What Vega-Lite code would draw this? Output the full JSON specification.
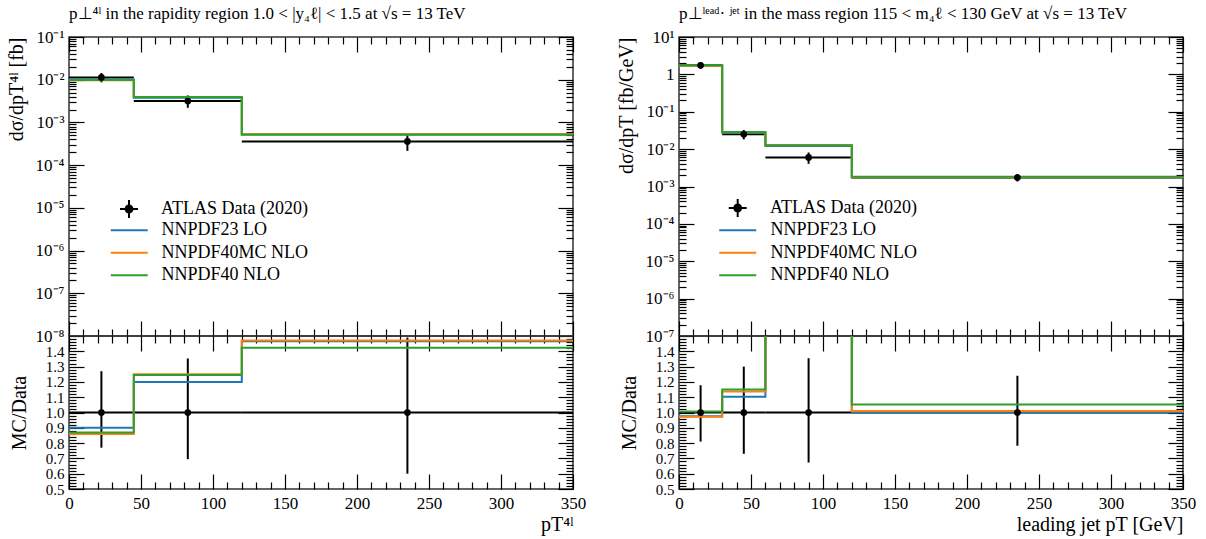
{
  "$schema": "https://vega.github.io/schema/vega-lite/v6.json",
  "autosize": {"type": "pad"},
  "padding": {"left": 5, "top": 4, "right": 5, "bottom": 5},
  "background": "white",
  "config": {
    "view": {"stroke": "#333", "strokeWidth": 1.5},
    "axis": {"grid": false, "domain": false, "labelFont": "Liberation Serif", "labelFontSize": 17, "labelColor": "black", "titleFont": "Liberation Serif", "titleFontSize": 20, "titleFontWeight": "normal", "titleColor": "black", "tickColor": "black", "tickWidth": 1.2, "labelFlush": false, "labelOverlap": false, "labelPadding": 5},
    "legend": {"labelFont": "Liberation Serif", "labelFontSize": 18, "labelColor": "black", "padding": 0, "rowPadding": 2.5},
    "title": {"font": "Liberation Serif", "fontSize": 17, "fontWeight": "normal", "color": "black"}
  },
  "datasets": {
    "Ldata": [
      {"src": "ATLAS Data (2020)", "lo": 0, "hi": 45, "c": 22.5, "v": 0.0113, "vlo": 0.0087, "vhi": 0.01435, "r": 1, "rlo": 0.77, "rhi": 1.27},
      {"src": "ATLAS Data (2020)", "lo": 45, "hi": 120, "c": 82.5, "v": 0.00317, "vlo": 0.0022, "vhi": 0.00429, "r": 1, "rlo": 0.695, "rhi": 1.353},
      {"src": "ATLAS Data (2020)", "lo": 120, "hi": 350, "c": 235, "v": 0.00036, "vlo": 0.000216, "vhi": 0.000536, "r": 1, "rlo": 0.6, "rhi": 1.49}
    ],
    "Lmc": [
      {"series": "NNPDF23 LO", "x": 0, "y": 0.01017, "ratio": 0.90},
      {"series": "NNPDF23 LO", "x": 45, "y": 0.003804, "ratio": 1.20},
      {"series": "NNPDF23 LO", "x": 120, "y": 0.000527, "ratio": 1.465},
      {"series": "NNPDF23 LO", "x": 350, "y": 0.000527, "ratio": 1.465},
      {"series": "NNPDF40MC NLO", "x": 0, "y": 0.00972, "ratio": 0.86},
      {"series": "NNPDF40MC NLO", "x": 45, "y": 0.003963, "ratio": 1.25},
      {"series": "NNPDF40MC NLO", "x": 120, "y": 0.000529, "ratio": 1.47},
      {"series": "NNPDF40MC NLO", "x": 350, "y": 0.000529, "ratio": 1.47},
      {"series": "NNPDF40 NLO", "x": 0, "y": 0.00983, "ratio": 0.87},
      {"series": "NNPDF40 NLO", "x": 45, "y": 0.003947, "ratio": 1.245},
      {"series": "NNPDF40 NLO", "x": 120, "y": 0.000512, "ratio": 1.423},
      {"series": "NNPDF40 NLO", "x": 350, "y": 0.000512, "ratio": 1.423}
    ],
    "Rdata": [
      {"src": "ATLAS Data (2020)", "lo": 0, "hi": 30, "c": 15, "v": 1.75, "vlo": 1.4175, "vhi": 2.06, "r": 1, "rlo": 0.81, "rhi": 1.178},
      {"src": "ATLAS Data (2020)", "lo": 30, "hi": 60, "c": 45, "v": 0.025, "vlo": 0.01825, "vhi": 0.0325, "r": 1, "rlo": 0.73, "rhi": 1.30},
      {"src": "ATLAS Data (2020)", "lo": 60, "hi": 120, "c": 90, "v": 0.006, "vlo": 0.00404, "vhi": 0.00813, "r": 1, "rlo": 0.673, "rhi": 1.355},
      {"src": "ATLAS Data (2020)", "lo": 120, "hi": 350, "c": 235, "v": 0.00174, "vlo": 0.00136, "vhi": 0.00216, "r": 1, "rlo": 0.783, "rhi": 1.24}
    ],
    "Rmc": [
      {"series": "NNPDF23 LO", "x": 0, "y": 1.706, "ratio": 0.975},
      {"series": "NNPDF23 LO", "x": 30, "y": 0.02758, "ratio": 1.103},
      {"series": "NNPDF23 LO", "x": 60, "y": 0.0122, "ratio": 2.03},
      {"series": "NNPDF23 LO", "x": 120, "y": 0.00174, "ratio": 1.0},
      {"series": "NNPDF23 LO", "x": 350, "y": 0.00174, "ratio": 1.0},
      {"series": "NNPDF40MC NLO", "x": 0, "y": 1.701, "ratio": 0.972},
      {"series": "NNPDF40MC NLO", "x": 30, "y": 0.02845, "ratio": 1.138},
      {"series": "NNPDF40MC NLO", "x": 60, "y": 0.0126, "ratio": 2.10},
      {"series": "NNPDF40MC NLO", "x": 120, "y": 0.001756, "ratio": 1.009},
      {"series": "NNPDF40MC NLO", "x": 350, "y": 0.001756, "ratio": 1.009},
      {"series": "NNPDF40 NLO", "x": 0, "y": 1.762, "ratio": 1.007},
      {"series": "NNPDF40 NLO", "x": 30, "y": 0.02878, "ratio": 1.151},
      {"series": "NNPDF40 NLO", "x": 60, "y": 0.0127, "ratio": 2.12},
      {"series": "NNPDF40 NLO", "x": 120, "y": 0.001832, "ratio": 1.053},
      {"series": "NNPDF40 NLO", "x": 350, "y": 0.001832, "ratio": 1.053}
    ]
  },
  "columns": 2,
  "spacing": {"row": 0, "column": 106},
  "bounds": "flush",
  "resolve": {"scale": {"stroke": "independent", "fill": "independent", "x": "independent", "y": "independent"}, "legend": {"stroke": "independent", "fill": "independent"}, "axis": {"x": "independent", "y": "independent"}},
  "concat": [
    {
      "width": 504, "height": 299,
      "title": {"text": "p⊥⁴ˡ in the rapidity region 1.0 < |y₄ℓ| < 1.5 at √s = 13 TeV", "anchor": "start", "frame": "group", "offset": 5},
      "resolve": {"axis": {"x": "independent", "y": "independent"}},
      "layer": [
        {
          "data": {"name": "Ldata"},
          "mark": {"type": "rule", "color": "black", "strokeWidth": 2},
          "encoding": {
            "x": {"field": "lo", "type": "quantitative", "scale": {"domain": [0, 350], "nice": false, "zero": false}, "axis": {"orient": "bottom", "values": [0, 50, 100, 150, 200, 250, 300, 350], "labels": false, "tickSize": -15, "title": null}},
            "x2": {"field": "hi"},
            "y": {"field": "v", "type": "quantitative", "scale": {"type": "log", "domain": [1e-8, 0.1], "nice": false}, "axis": {"orient": "left", "values": [1e-8, 1e-7, 1e-6, 1e-5, 1e-4, 1e-3, 1e-2, 1e-1], "tickSize": -15, "labelPadding": 20, "labelExpr": "datum.value >= 0.05 ? '10⁻¹' : datum.value >= 0.005 ? '10⁻²' : datum.value >= 5e-4 ? '10⁻³' : datum.value >= 5e-5 ? '10⁻⁴' : datum.value >= 5e-6 ? '10⁻⁵' : datum.value >= 5e-7 ? '10⁻⁶' : datum.value >= 5e-8 ? '10⁻⁷' : '10⁻⁸'", "title": "dσ/dpT⁴ˡ [fb]", "titleAnchor": "end", "titlePadding": 9}}
          }
        },
        {
          "data": {"name": "Ldata"},
          "mark": {"type": "rule", "color": "black", "strokeWidth": 2},
          "encoding": {
            "x": {"field": "c", "type": "quantitative", "scale": {"domain": [0, 350], "nice": false, "zero": false}, "axis": {"orient": "bottom", "values": [10, 20, 30, 40, 60, 70, 80, 90, 110, 120, 130, 140, 160, 170, 180, 190, 210, 220, 230, 240, 260, 270, 280, 290, 310, 320, 330, 340], "labels": false, "tickSize": -7, "title": null}},
            "y": {"field": "vlo", "type": "quantitative", "scale": {"type": "log", "domain": [1e-8, 0.1], "nice": false}, "axis": {"orient": "left", "values": [2e-8, 3e-8, 4e-8, 5e-8, 6e-8, 7e-8, 8e-8, 9e-8, 2e-7, 3e-7, 4e-7, 5e-7, 6e-7, 7e-7, 8e-7, 9e-7, 2e-6, 3e-6, 4e-6, 5e-6, 6e-6, 7e-6, 8e-6, 9e-6, 2e-5, 3e-5, 4e-5, 5e-5, 6e-5, 7e-5, 8e-5, 9e-5, 2e-4, 3e-4, 4e-4, 5e-4, 6e-4, 7e-4, 8e-4, 9e-4, 2e-3, 3e-3, 4e-3, 5e-3, 6e-3, 7e-3, 8e-3, 9e-3, 2e-2, 3e-2, 4e-2, 5e-2, 6e-2, 7e-2, 8e-2, 9e-2], "labels": false, "tickSize": -7, "title": null}},
            "y2": {"field": "vhi"}
          }
        },
        {
          "data": {"name": "Lmc"},
          "mark": {"type": "line", "interpolate": "step-after", "strokeWidth": 2, "clip": true},
          "encoding": {
            "x": {"field": "x", "type": "quantitative", "scale": {"domain": [0, 350], "nice": false, "zero": false}, "axis": {"orient": "top", "values": [0, 50, 100, 150, 200, 250, 300, 350], "labels": false, "tickSize": -15, "title": null}},
            "y": {"field": "y", "type": "quantitative", "scale": {"type": "log", "domain": [1e-8, 0.1], "nice": false}, "axis": {"orient": "right", "values": [1e-8, 1e-7, 1e-6, 1e-5, 1e-4, 1e-3, 1e-2, 1e-1], "labels": false, "tickSize": -15, "title": null}},
            "stroke": {"field": "series", "type": "nominal", "sort": null, "scale": {"domain": ["NNPDF23 LO", "NNPDF40MC NLO", "NNPDF40 NLO"], "range": ["#1f77b4", "#ff7f0e", "#2ca02c"]}, "legend": {"orient": "none", "legendX": 49.75, "legendY": 182.75, "title": null, "symbolType": "M-2,0H2", "symbolSize": 342, "symbolStrokeWidth": 2, "labelOffset": 21.75}}
          }
        },
        {
          "data": {"name": "Ldata"},
          "mark": {"type": "point", "filled": true, "size": 45, "opacity": 1},
          "encoding": {
            "x": {"field": "c", "type": "quantitative", "scale": {"domain": [0, 350], "nice": false, "zero": false}, "axis": {"orient": "top", "values": [10, 20, 30, 40, 60, 70, 80, 90, 110, 120, 130, 140, 160, 170, 180, 190, 210, 220, 230, 240, 260, 270, 280, 290, 310, 320, 330, 340], "labels": false, "tickSize": -7, "title": null}},
            "y": {"field": "v", "type": "quantitative", "scale": {"type": "log", "domain": [1e-8, 0.1], "nice": false}, "axis": {"orient": "right", "values": [2e-8, 3e-8, 4e-8, 5e-8, 6e-8, 7e-8, 8e-8, 9e-8, 2e-7, 3e-7, 4e-7, 5e-7, 6e-7, 7e-7, 8e-7, 9e-7, 2e-6, 3e-6, 4e-6, 5e-6, 6e-6, 7e-6, 8e-6, 9e-6, 2e-5, 3e-5, 4e-5, 5e-5, 6e-5, 7e-5, 8e-5, 9e-5, 2e-4, 3e-4, 4e-4, 5e-4, 6e-4, 7e-4, 8e-4, 9e-4, 2e-3, 3e-3, 4e-3, 5e-3, 6e-3, 7e-3, 8e-3, 9e-3, 2e-2, 3e-2, 4e-2, 5e-2, 6e-2, 7e-2, 8e-2, 9e-2], "labels": false, "tickSize": -7, "title": null}},
            "fill": {"field": "src", "type": "nominal", "scale": {"domain": ["ATLAS Data (2020)"], "range": ["black"]}, "legend": {"orient": "none", "legendX": 50, "legendY": 162, "title": null, "symbolType": "M-1,0H1M0,-1V1M-0.38,0A0.38,0.38,0,1,1,0.38,0A0.38,0.38,0,1,1,-0.38,0Z", "symbolSize": 324, "symbolStrokeColor": "black", "symbolFillColor": "black", "symbolStrokeWidth": 2, "labelOffset": 22}}
          }
        }
      ]
    },
    {
      "width": 504, "height": 299,
      "title": {"text": "p⊥ˡᵉᵃᵈ· ʲᵉᵗ in the mass region 115 < m₄ℓ < 130 GeV at √s = 13 TeV", "anchor": "start", "frame": "group", "offset": 5},
      "resolve": {"axis": {"x": "independent", "y": "independent"}},
      "layer": [
        {
          "data": {"name": "Rdata"},
          "mark": {"type": "rule", "color": "black", "strokeWidth": 2},
          "encoding": {
            "x": {"field": "lo", "type": "quantitative", "scale": {"domain": [0, 350], "nice": false, "zero": false}, "axis": {"orient": "bottom", "values": [0, 50, 100, 150, 200, 250, 300, 350], "labels": false, "tickSize": -15, "title": null}},
            "x2": {"field": "hi"},
            "y": {"field": "v", "type": "quantitative", "scale": {"type": "log", "domain": [1e-7, 10], "nice": false}, "axis": {"orient": "left", "values": [1e-7, 1e-6, 1e-5, 1e-4, 1e-3, 1e-2, 1e-1, 1, 10], "tickSize": -15, "labelPadding": 20, "labelExpr": "datum.value >= 5 ? '10¹' : datum.value >= 0.5 ? '1' : datum.value >= 0.05 ? '10⁻¹' : datum.value >= 0.005 ? '10⁻²' : datum.value >= 5e-4 ? '10⁻³' : datum.value >= 5e-5 ? '10⁻⁴' : datum.value >= 5e-6 ? '10⁻⁵' : datum.value >= 5e-7 ? '10⁻⁶' : '10⁻⁷'", "title": "dσ/dpT [fb/GeV]", "titleAnchor": "end", "titlePadding": 9}}
          }
        },
        {
          "data": {"name": "Rdata"},
          "mark": {"type": "rule", "color": "black", "strokeWidth": 2},
          "encoding": {
            "x": {"field": "c", "type": "quantitative", "scale": {"domain": [0, 350], "nice": false, "zero": false}, "axis": {"orient": "bottom", "values": [10, 20, 30, 40, 60, 70, 80, 90, 110, 120, 130, 140, 160, 170, 180, 190, 210, 220, 230, 240, 260, 270, 280, 290, 310, 320, 330, 340], "labels": false, "tickSize": -7, "title": null}},
            "y": {"field": "vlo", "type": "quantitative", "scale": {"type": "log", "domain": [1e-7, 10], "nice": false}, "axis": {"orient": "left", "values": [2e-7, 3e-7, 4e-7, 5e-7, 6e-7, 7e-7, 8e-7, 9e-7, 2e-6, 3e-6, 4e-6, 5e-6, 6e-6, 7e-6, 8e-6, 9e-6, 2e-5, 3e-5, 4e-5, 5e-5, 6e-5, 7e-5, 8e-5, 9e-5, 2e-4, 3e-4, 4e-4, 5e-4, 6e-4, 7e-4, 8e-4, 9e-4, 2e-3, 3e-3, 4e-3, 5e-3, 6e-3, 7e-3, 8e-3, 9e-3, 2e-2, 3e-2, 4e-2, 5e-2, 6e-2, 7e-2, 8e-2, 9e-2, 0.2, 0.3, 0.4, 0.5, 0.6, 0.7, 0.8, 0.9, 2, 3, 4, 5, 6, 7, 8, 9], "labels": false, "tickSize": -7, "title": null}},
            "y2": {"field": "vhi"}
          }
        },
        {
          "data": {"name": "Rmc"},
          "mark": {"type": "line", "interpolate": "step-after", "strokeWidth": 2, "clip": true},
          "encoding": {
            "x": {"field": "x", "type": "quantitative", "scale": {"domain": [0, 350], "nice": false, "zero": false}, "axis": {"orient": "top", "values": [0, 50, 100, 150, 200, 250, 300, 350], "labels": false, "tickSize": -15, "title": null}},
            "y": {"field": "y", "type": "quantitative", "scale": {"type": "log", "domain": [1e-7, 10], "nice": false}, "axis": {"orient": "right", "values": [1e-7, 1e-6, 1e-5, 1e-4, 1e-3, 1e-2, 1e-1, 1, 10], "labels": false, "tickSize": -15, "title": null}},
            "stroke": {"field": "series", "type": "nominal", "sort": null, "scale": {"domain": ["NNPDF23 LO", "NNPDF40MC NLO", "NNPDF40 NLO"], "range": ["#1f77b4", "#ff7f0e", "#2ca02c"]}, "legend": {"orient": "none", "legendX": 48.25, "legendY": 182.75, "title": null, "symbolType": "M-2,0H2", "symbolSize": 342, "symbolStrokeWidth": 2, "labelOffset": 22.25}}
          }
        },
        {
          "data": {"name": "Rdata"},
          "mark": {"type": "point", "filled": true, "size": 45, "opacity": 1},
          "encoding": {
            "x": {"field": "c", "type": "quantitative", "scale": {"domain": [0, 350], "nice": false, "zero": false}, "axis": {"orient": "top", "values": [10, 20, 30, 40, 60, 70, 80, 90, 110, 120, 130, 140, 160, 170, 180, 190, 210, 220, 230, 240, 260, 270, 280, 290, 310, 320, 330, 340], "labels": false, "tickSize": -7, "title": null}},
            "y": {"field": "v", "type": "quantitative", "scale": {"type": "log", "domain": [1e-7, 10], "nice": false}, "axis": {"orient": "right", "values": [2e-7, 3e-7, 4e-7, 5e-7, 6e-7, 7e-7, 8e-7, 9e-7, 2e-6, 3e-6, 4e-6, 5e-6, 6e-6, 7e-6, 8e-6, 9e-6, 2e-5, 3e-5, 4e-5, 5e-5, 6e-5, 7e-5, 8e-5, 9e-5, 2e-4, 3e-4, 4e-4, 5e-4, 6e-4, 7e-4, 8e-4, 9e-4, 2e-3, 3e-3, 4e-3, 5e-3, 6e-3, 7e-3, 8e-3, 9e-3, 2e-2, 3e-2, 4e-2, 5e-2, 6e-2, 7e-2, 8e-2, 9e-2, 0.2, 0.3, 0.4, 0.5, 0.6, 0.7, 0.8, 0.9, 2, 3, 4, 5, 6, 7, 8, 9], "labels": false, "tickSize": -7, "title": null}},
            "fill": {"field": "src", "type": "nominal", "scale": {"domain": ["ATLAS Data (2020)"], "range": ["black"]}, "legend": {"orient": "none", "legendX": 48.7, "legendY": 161, "title": null, "symbolType": "M-1,0H1M0,-1V1M-0.38,0A0.38,0.38,0,1,1,0.38,0A0.38,0.38,0,1,1,-0.38,0Z", "symbolSize": 324, "symbolStrokeColor": "black", "symbolFillColor": "black", "symbolStrokeWidth": 2, "labelOffset": 22.3}}
          }
        }
      ]
    },
    {
      "width": 504, "height": 153,
      "resolve": {"axis": {"x": "independent", "y": "independent"}},
      "layer": [
        {
          "data": {"name": "Ldata"},
          "mark": {"type": "rule", "color": "black", "strokeWidth": 2},
          "encoding": {
            "x": {"field": "lo", "type": "quantitative", "scale": {"domain": [0, 350], "nice": false, "zero": false}, "axis": {"orient": "bottom", "values": [0, 50, 100, 150, 200, 250, 300, 350], "tickSize": -15, "labelPadding": 21, "title": "pT⁴ˡ", "titleAnchor": "end", "titlePadding": 3}},
            "x2": {"field": "hi"},
            "y": {"field": "r", "type": "quantitative", "scale": {"domain": [0.5, 1.5], "nice": false, "zero": false}, "axis": {"orient": "left", "values": [0.5, 0.6, 0.7, 0.8, 0.9, 1.0, 1.1, 1.2, 1.3, 1.4], "format": ".1f", "tickSize": -15, "labelPadding": 20, "labelFontSize": 15, "title": "MC/Data", "titlePadding": 16}}
          }
        },
        {
          "data": {"name": "Ldata"},
          "mark": {"type": "rule", "color": "black", "strokeWidth": 2},
          "encoding": {
            "x": {"field": "c", "type": "quantitative", "scale": {"domain": [0, 350], "nice": false, "zero": false}, "axis": {"orient": "bottom", "values": [10, 20, 30, 40, 60, 70, 80, 90, 110, 120, 130, 140, 160, 170, 180, 190, 210, 220, 230, 240, 260, 270, 280, 290, 310, 320, 330, 340], "labels": false, "tickSize": -7, "title": null}},
            "y": {"field": "rlo", "type": "quantitative", "scale": {"domain": [0.5, 1.5], "nice": false, "zero": false}, "axis": {"orient": "left", "values": [0.52, 0.54, 0.56, 0.58, 0.62, 0.64, 0.66, 0.68, 0.72, 0.74, 0.76, 0.78, 0.82, 0.84, 0.86, 0.88, 0.92, 0.94, 0.96, 0.98, 1.02, 1.04, 1.06, 1.08, 1.12, 1.14, 1.16, 1.18, 1.22, 1.24, 1.26, 1.28, 1.32, 1.34, 1.36, 1.38, 1.42, 1.44, 1.46, 1.48], "labels": false, "tickSize": -7, "title": null}},
            "y2": {"field": "rhi"}
          }
        },
        {
          "data": {"name": "Lmc"},
          "mark": {"type": "line", "interpolate": "step-after", "strokeWidth": 2, "clip": true},
          "encoding": {
            "x": {"field": "x", "type": "quantitative", "scale": {"domain": [0, 350], "nice": false, "zero": false}, "axis": {"orient": "top", "values": [0, 50, 100, 150, 200, 250, 300, 350], "labels": false, "tickSize": -15, "title": null}},
            "y": {"field": "ratio", "type": "quantitative", "scale": {"domain": [0.5, 1.5], "nice": false, "zero": false}, "axis": {"orient": "right", "values": [0.5, 0.6, 0.7, 0.8, 0.9, 1.0, 1.1, 1.2, 1.3, 1.4], "labels": false, "tickSize": -15, "title": null}},
            "stroke": {"field": "series", "type": "nominal", "sort": null, "scale": {"domain": ["NNPDF23 LO", "NNPDF40MC NLO", "NNPDF40 NLO"], "range": ["#1f77b4", "#ff7f0e", "#2ca02c"]}, "legend": null}
          }
        },
        {
          "data": {"name": "Ldata"},
          "mark": {"type": "point", "filled": true, "size": 45, "opacity": 1, "color": "black"},
          "encoding": {
            "x": {"field": "c", "type": "quantitative", "scale": {"domain": [0, 350], "nice": false, "zero": false}, "axis": {"orient": "top", "values": [10, 20, 30, 40, 60, 70, 80, 90, 110, 120, 130, 140, 160, 170, 180, 190, 210, 220, 230, 240, 260, 270, 280, 290, 310, 320, 330, 340], "labels": false, "tickSize": -7, "title": null}},
            "y": {"field": "r", "type": "quantitative", "scale": {"domain": [0.5, 1.5], "nice": false, "zero": false}, "axis": {"orient": "right", "values": [0.52, 0.54, 0.56, 0.58, 0.62, 0.64, 0.66, 0.68, 0.72, 0.74, 0.76, 0.78, 0.82, 0.84, 0.86, 0.88, 0.92, 0.94, 0.96, 0.98, 1.02, 1.04, 1.06, 1.08, 1.12, 1.14, 1.16, 1.18, 1.22, 1.24, 1.26, 1.28, 1.32, 1.34, 1.36, 1.38, 1.42, 1.44, 1.46, 1.48], "labels": false, "tickSize": -7, "title": null}}
          }
        }
      ]
    },
    {
      "width": 504, "height": 153,
      "resolve": {"axis": {"x": "independent", "y": "independent"}},
      "layer": [
        {
          "data": {"name": "Rdata"},
          "mark": {"type": "rule", "color": "black", "strokeWidth": 2},
          "encoding": {
            "x": {"field": "lo", "type": "quantitative", "scale": {"domain": [0, 350], "nice": false, "zero": false}, "axis": {"orient": "bottom", "values": [0, 50, 100, 150, 200, 250, 300, 350], "tickSize": -15, "labelPadding": 21, "title": "leading jet pT [GeV]", "titleAnchor": "end", "titlePadding": 3}},
            "x2": {"field": "hi"},
            "y": {"field": "r", "type": "quantitative", "scale": {"domain": [0.5, 1.5], "nice": false, "zero": false}, "axis": {"orient": "left", "values": [0.5, 0.6, 0.7, 0.8, 0.9, 1.0, 1.1, 1.2, 1.3, 1.4], "format": ".1f", "tickSize": -15, "labelPadding": 20, "labelFontSize": 15, "title": "MC/Data", "titlePadding": 16}}
          }
        },
        {
          "data": {"name": "Rdata"},
          "mark": {"type": "rule", "color": "black", "strokeWidth": 2},
          "encoding": {
            "x": {"field": "c", "type": "quantitative", "scale": {"domain": [0, 350], "nice": false, "zero": false}, "axis": {"orient": "bottom", "values": [10, 20, 30, 40, 60, 70, 80, 90, 110, 120, 130, 140, 160, 170, 180, 190, 210, 220, 230, 240, 260, 270, 280, 290, 310, 320, 330, 340], "labels": false, "tickSize": -7, "title": null}},
            "y": {"field": "rlo", "type": "quantitative", "scale": {"domain": [0.5, 1.5], "nice": false, "zero": false}, "axis": {"orient": "left", "values": [0.52, 0.54, 0.56, 0.58, 0.62, 0.64, 0.66, 0.68, 0.72, 0.74, 0.76, 0.78, 0.82, 0.84, 0.86, 0.88, 0.92, 0.94, 0.96, 0.98, 1.02, 1.04, 1.06, 1.08, 1.12, 1.14, 1.16, 1.18, 1.22, 1.24, 1.26, 1.28, 1.32, 1.34, 1.36, 1.38, 1.42, 1.44, 1.46, 1.48], "labels": false, "tickSize": -7, "title": null}},
            "y2": {"field": "rhi"}
          }
        },
        {
          "data": {"name": "Rmc"},
          "mark": {"type": "line", "interpolate": "step-after", "strokeWidth": 2, "clip": true},
          "encoding": {
            "x": {"field": "x", "type": "quantitative", "scale": {"domain": [0, 350], "nice": false, "zero": false}, "axis": {"orient": "top", "values": [0, 50, 100, 150, 200, 250, 300, 350], "labels": false, "tickSize": -15, "title": null}},
            "y": {"field": "ratio", "type": "quantitative", "scale": {"domain": [0.5, 1.5], "nice": false, "zero": false}, "axis": {"orient": "right", "values": [0.5, 0.6, 0.7, 0.8, 0.9, 1.0, 1.1, 1.2, 1.3, 1.4], "labels": false, "tickSize": -15, "title": null}},
            "stroke": {"field": "series", "type": "nominal", "sort": null, "scale": {"domain": ["NNPDF23 LO", "NNPDF40MC NLO", "NNPDF40 NLO"], "range": ["#1f77b4", "#ff7f0e", "#2ca02c"]}, "legend": null}
          }
        },
        {
          "data": {"name": "Rdata"},
          "mark": {"type": "point", "filled": true, "size": 45, "opacity": 1, "color": "black"},
          "encoding": {
            "x": {"field": "c", "type": "quantitative", "scale": {"domain": [0, 350], "nice": false, "zero": false}, "axis": {"orient": "top", "values": [10, 20, 30, 40, 60, 70, 80, 90, 110, 120, 130, 140, 160, 170, 180, 190, 210, 220, 230, 240, 260, 270, 280, 290, 310, 320, 330, 340], "labels": false, "tickSize": -7, "title": null}},
            "y": {"field": "r", "type": "quantitative", "scale": {"domain": [0.5, 1.5], "nice": false, "zero": false}, "axis": {"orient": "right", "values": [0.52, 0.54, 0.56, 0.58, 0.62, 0.64, 0.66, 0.68, 0.72, 0.74, 0.76, 0.78, 0.82, 0.84, 0.86, 0.88, 0.92, 0.94, 0.96, 0.98, 1.02, 1.04, 1.06, 1.08, 1.12, 1.14, 1.16, 1.18, 1.22, 1.24, 1.26, 1.28, 1.32, 1.34, 1.36, 1.38, 1.42, 1.44, 1.46, 1.48], "labels": false, "tickSize": -7, "title": null}}
          }
        }
      ]
    }
  ]
}
